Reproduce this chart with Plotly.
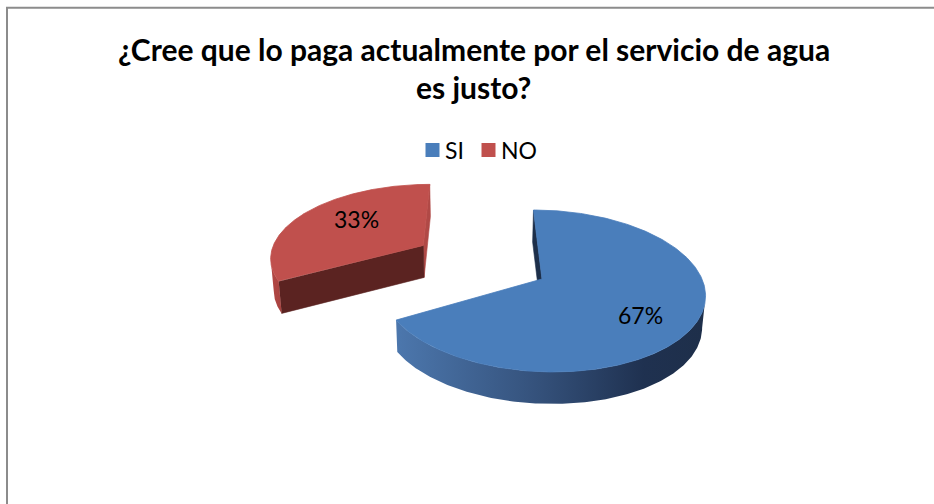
import numpy as np
import plotly.graph_objects as go

# ---- data ----
categories = ["SI", "NO"]
values = [67, 33]
title_lines = ["¿Cree que lo paga actualmente por el servicio de agua", "es justo?"]

# ---- style ----
top_colors = ["#4a7ebb", "#c0504d"]
wall_scales = [
    [[0.0, "#4c77ad"], [0.45, "#35527c"], [0.8, "#1f3150"], [1.0, "#1e2f4a"]],
    [[0.0, "#b24845"], [1.0, "#a8423f"]],
]
start_face_colors = ["#1d2f4a", "#5b2321"]
end_face_colors = ["#1d2f4a", "#b04946"]
explode = [0.0, 142.0]          # radial offset of each slice
label_nudge = [(6, 10), (8, -5)]  # fine placement of the value labels (px)
FONT = "Lato"

# ---- 3-D pie projection (screen pixels) ----
CAM_X, CAM_Y = 476.0, 279.0     # vanishing centre / pie apex height
R = 160.0                       # pie radius
K = 0.148                       # perspective strength
RV = 79.2                       # vertical squash of the disc
H = 32.0                        # pie thickness
XC = 66.0                       # pie centre offset from the camera axis


def proj(X, Zb, h=0.0):
    s = 1.0 / (1.0 + K * np.asarray(Zb) / R)
    conv = 1.0 - 0.015 * h / H
    x = CAM_X + np.asarray(X) * s * conv
    y = CAM_Y - (RV / R) * np.asarray(Zb) * s + h
    return x, y


def rim(center, theta_deg, radius=R):
    t = np.radians(theta_deg)
    return center[0] + radius * np.sin(t), center[1] + radius * np.cos(t)


def poly(xs, ys, **kw):
    xs = list(xs) + [xs[0]]
    ys = list(ys) + [ys[0]]
    return go.Scatter(x=xs, y=ys, mode="lines", fill="toself",
                      hoverinfo="skip", showlegend=False, **kw)


fig = go.Figure()
total = float(sum(values))
cam_world = (0.0, -R / K)
cum = 0.0
label_pos = []
for i, (cat, v) in enumerate(zip(categories, values)):
    t0 = 360.0 * cum / total
    t1 = 360.0 * (cum + v) / total
    cum += v
    mid = np.radians((t0 + t1) / 2)
    c = (XC + explode[i] * np.sin(mid), explode[i] * np.cos(mid))

    # cut faces
    def face(theta):
        rx, rz = rim(c, theta)
        xa, ya = proj(c[0], c[1], 0)
        xb, yb = proj(rx, rz, 0)
        xc_, yc_ = proj(rx, rz, H)
        xd, yd = proj(c[0], c[1], H)
        return [xa, xb, xc_, xd], [ya, yb, yc_, yd]

    def facing(theta, sign):
        t = np.radians(theta)
        n = (sign * np.cos(t), -sign * np.sin(t))
        d = (cam_world[0] - c[0], cam_world[1] - c[1])
        return n[0] * d[0] + n[1] * d[1] > 0

    if facing(t1, 1):
        fx, fy = face(t1)
        fig.add_trace(poly(fx, fy, fillcolor=end_face_colors[i],
                           line=dict(width=0.6, color=end_face_colors[i])))
    if facing(t0, -1):
        fx, fy = face(t0)
        fig.add_trace(poly(fx, fy, fillcolor=start_face_colors[i],
                           line=dict(width=0.6, color=start_face_colors[i])))

    # outer wall: only the front part between the silhouette extremes
    tg = np.linspace(0, 360, 3601)
    gx, _ = proj(*rim(c, tg))
    t_right, t_left = tg[np.argmax(gx)], tg[np.argmin(gx)]
    a, b = max(t0, t_right), min(t1, t_left)
    if a < b:
        tw = np.linspace(a, b, 200)
        wx, wz = rim(c, tw)
        xt, yt = proj(wx, wz, 0)
        xb_, yb_ = proj(wx, wz, H)
        fig.add_trace(poly(np.concatenate([xt, xb_[::-1]]),
                           np.concatenate([yt, yb_[::-1]]),
                           fillgradient=dict(type="horizontal",
                                             colorscale=wall_scales[i]),
                           line=dict(width=0)))

    # top surface
    tt = np.linspace(t0, t1, 300)
    rx, rz = rim(c, tt)
    xs, ys = proj(np.concatenate([[c[0]], rx]), np.concatenate([[c[1]], rz]), 0)
    fig.add_trace(poly(xs, ys, fillcolor=top_colors[i],
                       line=dict(width=0.8, color=top_colors[i])))

    lx, lz = rim(c, np.degrees(mid), 0.62 * R)
    px, py = proj(lx, lz, 0)
    label_pos.append((float(px) + label_nudge[i][0],
                      float(py) + label_nudge[i][1], f"{v}%"))

# data labels
for px, py, txt in label_pos:
    fig.add_annotation(x=px, y=py, text=txt, showarrow=False,
                       font=dict(family=FONT, size=23, color="#000000"),
                       xanchor="center", yanchor="middle")

# legend
leg_x = [432.5, 488.5]
for i, cat in enumerate(categories):
    fig.add_trace(go.Scatter(x=[leg_x[i]], y=[150], mode="markers",
                             marker=dict(symbol="square", size=14,
                                         color=top_colors[i]),
                             hoverinfo="skip", showlegend=False))
    fig.add_annotation(x=leg_x[i] + 10, y=150, text=cat, showarrow=False,
                       font=dict(family=FONT, size=23, color="#000000"),
                       xanchor="left", yanchor="middle")

# title
for j, line in enumerate(title_lines):
    fig.add_annotation(x=473.5, y=49 + 38 * j, text=line, showarrow=False,
                       font=dict(family=FONT, size=30, color="#000000",
                                 weight="bold"),
                       xanchor="center", yanchor="middle")

# chart frame (left and top edges)
fig.add_shape(type="path", path="M 7,504 L 7,7.7 L 934,7.7",
              line=dict(color="#8c8c8c", width=2), xref="x", yref="y")

fig.update_xaxes(range=[0, 934], visible=False, fixedrange=True)
fig.update_yaxes(range=[504, 0], visible=False, fixedrange=True)
fig.update_layout(width=934, height=504, autosize=False,
                  margin=dict(l=0, r=0, t=0, b=0),
                  paper_bgcolor="white", plot_bgcolor="white",
                  showlegend=False)

fig.write_html("out.html")
